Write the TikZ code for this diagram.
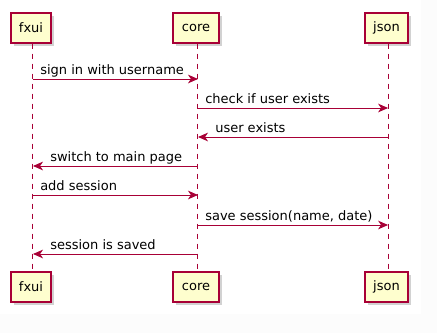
\documentclass[tikz,border=0pt]{standalone}
\usepackage{fontspec}
\setmainfont{DejaVu Sans}
\usetikzlibrary{arrows.meta,shadows}
\definecolor{umlred}{HTML}{A80036}
\definecolor{umlfill}{HTML}{FEFECE}
\definecolor{margin}{HTML}{FCFCFC}
\begin{document}
\begin{tikzpicture}[x=0.75pt,y=-0.75pt,
  txt/.style={font=\fontsize{9.75pt}{11pt}\selectfont, text=black},
  participant/.style={txt, draw=umlred, fill=umlfill, line width=1.1pt,
    minimum height=22.5pt, inner sep=0pt,
    drop shadow={shadow xshift=2.5pt, shadow yshift=-2.5pt, opacity=0.25, fill=black!70}},
  lifeline/.style={draw=umlred, line width=0.75pt, dash pattern=on 3.75pt off 3.75pt},
  msg/.style={draw=umlred, line width=0.75pt,
    -{Stealth[length=7.5pt,width=6.5pt,inset=2.2pt]}, umlred},
  lbl/.style={txt, anchor=base west, inner sep=0pt}]
  \useasboundingbox (0,0) rectangle (437,333);
  \fill[white] (0,0) rectangle (437,333);
  \fill[margin] (421,0) rectangle (437,333);
  \fill[margin] (0,314) rectangle (421,333);

  % participants, top and bottom
  \node[participant, minimum width=30pt]    (fxuiT) at (31,28)    {fxui};
  \node[participant, minimum width=34.5pt]  (coreT) at (196,28)   {core};
  \node[participant, minimum width=32.25pt] (jsonT) at (386.5,28) {json};
  \node[participant, minimum width=30pt]    (fxuiB) at (31,287)   {fxui};
  \node[participant, minimum width=34.5pt]  (coreB) at (196,287)  {core};
  \node[participant, minimum width=32.25pt] (jsonB) at (386.5,287){json};

  % lifelines
  \path ([xshift=1.5pt]fxuiT.south) coordinate (fxuiL)
        ([xshift=1.5pt]coreT.south) coordinate (coreL)
        ([xshift=1.2pt]jsonT.south) coordinate (jsonL);
  \draw[lifeline] (fxuiL) -- ([xshift=1.5pt]fxuiB.north);
  \draw[lifeline] (coreL) -- ([xshift=1.5pt]coreB.north);
  \draw[lifeline] (jsonL) -- ([xshift=1.2pt]jsonB.north);

  % messages
  \draw[msg] (fxuiL |- 0,79)  -- (coreL |- 0,79);
  \node[lbl] (l1) at ([xshift=5.25pt]fxuiL |- 0,74) {sign in with username};

  \draw[msg] (coreL |- 0,108) -- (jsonL |- 0,108);
  \node[lbl] (l2) at ([xshift=5.25pt]coreL |- 0,103) {check if user exists};

  \draw[msg] (jsonL |- 0,137) -- (coreL |- 0,137);
  \node[lbl] (l3) at ([xshift=12.75pt]coreL |- 0,132) {user exists};

  \draw[msg] (coreL |- 0,166) -- (fxuiL |- 0,166);
  \node[lbl] (l4) at ([xshift=12.75pt]fxuiL |- 0,161) {switch to main page};

  \draw[msg] (fxuiL |- 0,195) -- (coreL |- 0,195);
  \node[lbl] (l5) at ([xshift=5.25pt]fxuiL |- 0,190) {add session};

  \draw[msg] (coreL |- 0,225) -- (jsonL |- 0,225);
  \node[lbl] (l6) at ([xshift=5.25pt]coreL |- 0,220) {save session(name, date)};

  \draw[msg] (coreL |- 0,254) -- (fxuiL |- 0,254);
  \node[lbl] (l7) at ([xshift=12.75pt]fxuiL |- 0,249) {session is saved};
\end{tikzpicture}
\end{document}
